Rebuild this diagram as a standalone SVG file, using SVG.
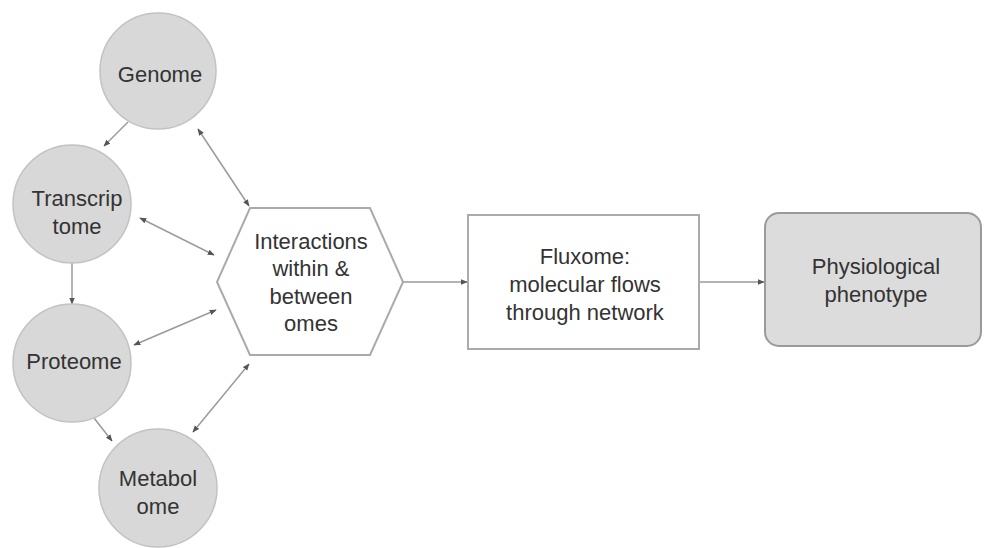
<svg xmlns="http://www.w3.org/2000/svg" width="984" height="548" viewBox="0 0 984 548">
<defs>
<style>
text{font-family:"Liberation Sans",Arial,sans-serif;font-size:22px;fill:#333;text-anchor:middle}
.ome{fill:#d8d8d8;stroke:#c2c2c2;stroke-width:1.5}
.box{fill:#fff;stroke:#aaa;stroke-width:2}
.phen{fill:#dcdcdc;stroke:#9a9a9a;stroke-width:2}
.conn{stroke:#9a9a9a;stroke-width:1.5;fill:none}
</style>
<marker id="ah" viewBox="0 0 10 10" refX="9" refY="5" markerWidth="7" markerHeight="7" orient="auto-start-reverse" markerUnits="userSpaceOnUse">
<path d="M0,1 L10,5 L0,9 Z" fill="#555"/>
</marker>
</defs>
<g id="connectors">
<line class="conn" x1="128" y1="122" x2="104" y2="146" marker-end="url(#ah)"/>
<line class="conn" x1="72" y1="263" x2="72" y2="304" marker-end="url(#ah)"/>
<line class="conn" x1="94" y1="418" x2="112" y2="441" marker-end="url(#ah)"/>
<line class="conn" x1="198" y1="129" x2="249" y2="206" marker-start="url(#ah)" marker-end="url(#ah)"/>
<line class="conn" x1="140" y1="218" x2="214" y2="255" marker-start="url(#ah)" marker-end="url(#ah)"/>
<line class="conn" x1="134" y1="345" x2="216" y2="310" marker-start="url(#ah)" marker-end="url(#ah)"/>
<line class="conn" x1="193" y1="432" x2="249" y2="364" marker-start="url(#ah)" marker-end="url(#ah)"/>
<line class="conn" x1="403" y1="282" x2="467" y2="282" marker-end="url(#ah)"/>
<line class="conn" x1="699" y1="282" x2="764" y2="282" marker-end="url(#ah)"/>
</g>
<g id="genome">
<circle class="ome" cx="158" cy="71" r="58"/>
<text x="160" y="82">Genome</text>
</g>
<g id="transcriptome">
<circle class="ome" cx="72" cy="204" r="59"/>
<text x="77" y="206">Transcrip</text>
<text x="77" y="234">tome</text>
</g>
<g id="proteome">
<circle class="ome" cx="72" cy="363" r="59"/>
<text x="74" y="369">Proteome</text>
</g>
<g id="metabolome">
<circle class="ome" cx="158" cy="488" r="59"/>
<text x="158" y="486">Metabol</text>
<text x="158" y="514">ome</text>
</g>
<g id="interactions">
<polygon class="box" points="250,208 370,208 403,282 370,355 250,355 217,282"/>
<text x="311" y="249">Interactions</text>
<text x="311" y="276">within &amp;</text>
<text x="311" y="304">between</text>
<text x="311" y="331">omes</text>
</g>
<g id="fluxome">
<rect class="box" x="468" y="215" width="231" height="134"/>
<text x="585" y="264">Fluxome:</text>
<text x="585" y="292">molecular flows</text>
<text x="585" y="320">through network</text>
</g>
<g id="phenotype">
<rect class="phen" x="765" y="213" width="216" height="133" rx="14" ry="14"/>
<text x="876" y="274">Physiological</text>
<text x="876" y="302">phenotype</text>
</g>
</svg>
